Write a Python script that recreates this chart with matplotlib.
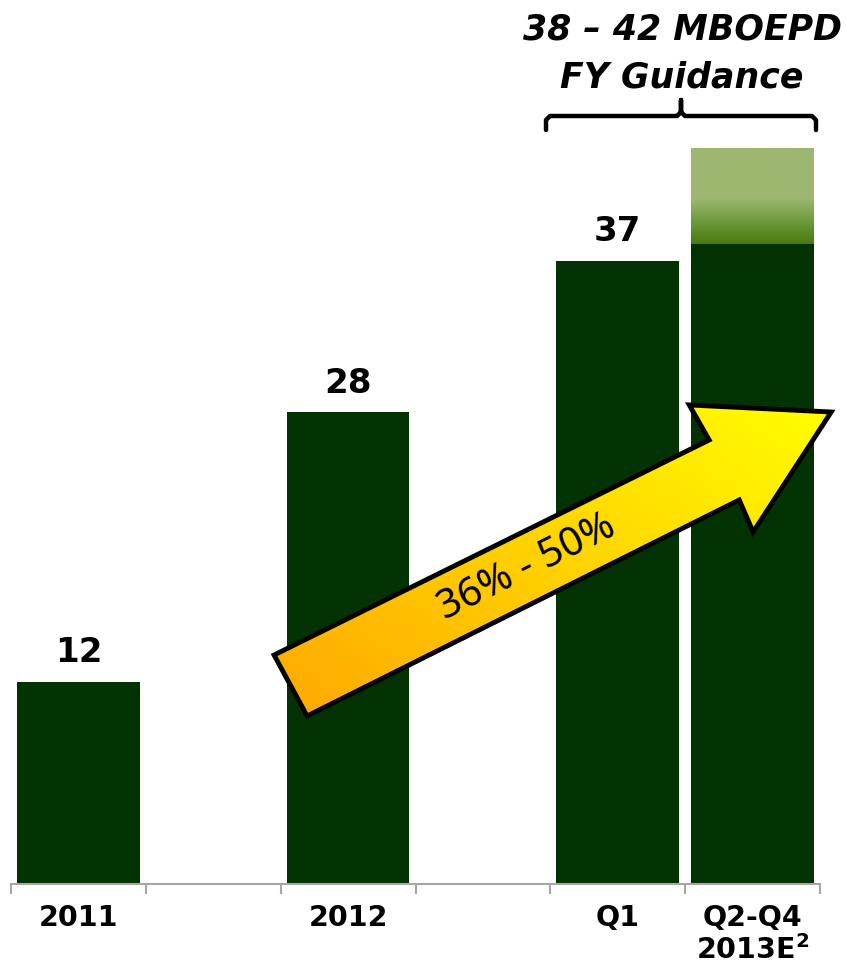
import numpy as np
import matplotlib
matplotlib.use("Agg")
import matplotlib.pyplot as plt
from matplotlib.patches import Polygon
from matplotlib.colors import LinearSegmentedColormap

# data
categories = ['2011', '', '2012', '', 'Q1', 'Q2-Q4\n2013E$^{\\mathbf{2}}$']
values = [12, 0, 28, 0, 37, 38]
value_labels = ['12', '', '28', '', '37', '']
guidance_low = 38
guidance_top = 43.7
title_lines = ["38 \u2013 42 MBOEPD", "FY Guidance"]
growth_text = "36% - 50%"

dark = '#033303'

fig = plt.figure(figsize=(8.46, 9.70), dpi=100)
ax = fig.add_axes([11/846, 85/970, 809/846, 885/970])
x = np.arange(len(categories))

bars = ax.bar(x, values, width=0.91, color=dark, zorder=2)

# guidance band on last bar, gradient mid -> light green
band = ax.bar(x[-1], guidance_top - guidance_low, bottom=guidance_low, width=0.91,
              color='none', zorder=2)[0]
cm = LinearSegmentedColormap.from_list('g', ['#497a10', '#6e9a3c', '#9db771'])
grad = np.clip(np.linspace(0, 1, 300).reshape(-1, 1) / 0.47, 0, 1)
im = ax.imshow(grad, cmap=cm, aspect='auto', origin='lower',
               extent=[x[-1] - 0.455, x[-1] + 0.455, guidance_low, guidance_top], zorder=2)
im.set_clip_path(band)

for xi, v, lab in zip(x, values, value_labels):
    if lab:
        ax.text(xi, v + 0.8, lab, ha='center', va='bottom', fontsize=24.5,
                fontweight='bold', color='black')

# growth arrow
arrow_x = [1.451, 4.678, 4.530, 5.583, 5.004, 4.901, 1.696]
arrow_y = [13.59, 26.35, 28.43, 28.01, 20.89, 22.79, 9.97]
arrow = Polygon(np.column_stack([arrow_x, arrow_y]), closed=True, facecolor='none',
                edgecolor='black', linewidth=3.5, joinstyle='miter', zorder=4,
                clip_on=False)
ax.add_patch(arrow)
gx, gy = np.meshgrid(np.linspace(0, 1, 300), np.linspace(0, 1, 300))
t = 0.55 * gx + 0.45 * gy
ycm = LinearSegmentedColormap.from_list('y', ['#ffa800', '#ffd200', '#ffff00'])
aim = ax.imshow(t, cmap=ycm, aspect='auto', origin='lower',
                extent=[min(arrow_x), max(arrow_x), min(arrow_y), max(arrow_y)], zorder=3)
aim.set_clip_path(arrow)
aim.set_clip_box(fig.bbox)
ax.text(3.33, 18.8, growth_text, rotation=26.5, rotation_mode='anchor',
        ha='center', va='center', fontsize=29, color='black', zorder=5,
        family='Noto Sans', fontweight='medium')

ax.set_xlim(-0.5, len(categories) - 0.5)
ax.set_ylim(0, 52.52)
for s in ['top', 'right', 'left']:
    ax.spines[s].set_visible(False)
ax.spines['bottom'].set_color('#a6a6a6')
ax.spines['bottom'].set_linewidth(1.5)
ax.set_yticks([])
shown = [i for i, c in enumerate(categories) if c]
ax.set_xticks(shown)
ax.set_xticklabels([categories[i] for i in shown], fontsize=20.5, fontweight='bold',
                   linespacing=1.1, va='top')
ax.tick_params(axis='x', which='major', length=0, pad=14)
ax.set_xticks(np.arange(-0.5, len(categories)), minor=True)
ax.tick_params(axis='x', which='minor', length=7.5, width=1.5, color='#a6a6a6', direction='out')

# guidance brace and title (figure coords)
def fx(px):
    return px / 846
def fy(py):
    return 1 - py / 970

bx0, bx1, bxm = 546, 816, 681
by, byd, bym = 117, 131, 101
fig.add_artist(plt.Line2D([fx(bx0), fx(bx0), fx(bx0 + 4), fx(bxm - 4), fx(bxm), fx(bxm),
                           fx(bxm), fx(bxm + 4), fx(bx1 - 4), fx(bx1), fx(bx1)],
                          [fy(byd), fy(by + 4), fy(by), fy(by), fy(by - 4), fy(bym),
                           fy(by - 4), fy(by), fy(by), fy(by + 4), fy(byd)],
                          color='black', linewidth=3.2, solid_joinstyle='round',
                          solid_capstyle='round'))
fig.text(fx(682), fy(29), title_lines[0], ha='center', va='center', fontsize=25,
         fontweight='bold', fontstyle='italic')
fig.text(fx(682), fy(78), title_lines[1], ha='center', va='center', fontsize=25,
         fontweight='bold', fontstyle='italic')

fig.savefig('out.png', dpi=100, facecolor='white')
